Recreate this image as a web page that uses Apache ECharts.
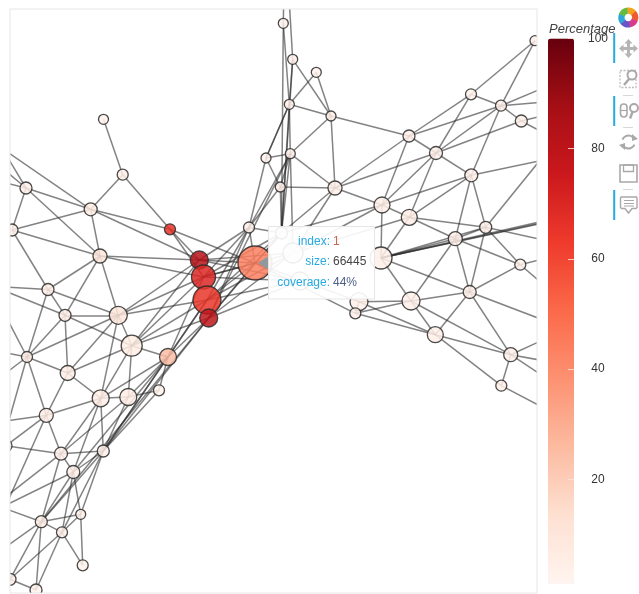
<!DOCTYPE html>
<html><head><meta charset="utf-8">
<style>html,body{margin:0;padding:0;background:#fff}#c{width:639px;height:594px}</style>
<script src="https://cdn.jsdelivr.net/npm/echarts@6/dist/echarts.min.js"></script>
</head><body><div id="c"></div>
<script>
const nodeNames=['A','B','C','D','E','F','G','H','I','J','K','L','M','N','O','P','Q','R','S','T','V','W','X','Y','Z','AA','AB','AC','AD','AE','AF','AG','AH','AI','AJ','AK','AL','AM','AN','AO','AP','AQ','z','x','y','u','a','b','c','d','e','f','g','h','i','j','k','l','m','n','o','p','q','r','s','t'];
const nodeX=[103.5,122.7,26,90.7,170,12,100,199.3,203.5,207,208.7,255,249,266,283.3,292.7,316.3,289.3,331,290.3,280.3,335,409,436,471,501,521.3,535,471.3,382,409.3,485.7,455.3,381,520.3,469.7,411,359,355.3,435.3,510.7,501.3,281.5,293,300,48,65,118.3,131.7,168,27,67.7,100.7,128.3,159,46.3,61,103.3,6,73.3,80.7,41.3,62,82.7,10,36];
const nodeY=[119.3,174.7,188,209.3,229.3,230,256,260,277,300,318,263,227.5,158,23.3,59.3,72.3,104.3,116,153.7,187,188,136,153,94.3,105.7,121,40.7,175.3,205,217.3,227.3,238.7,258,264.7,292,301,301.7,313.3,334.7,354.7,385.7,233,253,281,289.5,315.3,315.3,345.7,357,357,373,398.3,397,390.3,415.3,453.7,451,445.7,472,514.3,521.7,532.3,565.3,579.3,590];
const nodeRadius=[5,5.5,6,6.5,5.5,6,7,9,12,14,9,17,5.5,5,5,5,5,5,5,5,5,7,6,6.5,5.5,5.5,6,5,6.5,8,8,6,7,11,5.5,6.5,9,9,5.5,8,7,5.5,6,10,9,6,6,9,10.5,8.5,5.5,7.5,8.5,8.5,5.5,7,6.5,6,6,6.5,5,6,5.5,5.5,6,6];
const nodeCoverage=[3,5,4,6,66,4,10,82,70,65,80,44,5,3,4,4,3,4,4,4,4,4,4,4,3,4,4,4,4,4,5,4,4,4,4,4,4,4,4,4,4,4,3,3,3,5,5,10,6,25,5,5,5,5,3,5,4,4,4,5,4,5,4,3,4,3];

const offNames=['t1','t2','l1','l2','l3','l4','l5','l6','l7','l8','l9','l10','l11','l12','l13','l14','l15','r1','r2','r3','r4','r5','r6','r7','r8','r9','r10','r11','r12','r13','r14','r15','r16'];
const offX=[284,288,-10,-10,-10,-10,-10,-10,-10,-10,-10,-10,-10,-10,-10,-10,-10,567,567,567,567,567,567,567,567,567,567,567,567,567,567,567,567];
const offY=[-20,-20,140,158,179,286,285,350,385,487,509,513,503,558,541,128,423,78,100,110,145,155,127,217,215.5,245,253,305,329,365,392,420,218];

const edgeList='A-B B-D B-E C-D C-G C-F C-l2 C-l3 C-l14 D-E D-H D-G D-F D-l1 F-G F-u G-H G-I G-u G-a G-b u-l4 u-a u-b u-e l5-a a-b a-c a-f a-e e-l6 e-b e-f e-j e-l7 e-l8 e-l4 b-c b-f b-g b-J b-I b-H c-H c-I c-J c-K c-d c-g c-h c-f f-j f-g g-h g-j g-l g-n g-k g-d h-i h-d h-l h-k d-i d-K d-J d-I d-l i-l K-l K-p d-n J-l l-k l-n l-p l-q l-o n-k n-o n-q n-l10 k-j k-m k-p k-l9 j-l15 j-m j-l13 p-n p-q p-o p-l11 p-s p-t p-l12 q-o q-r q-s q-t o-r s-t E-H E-I E-L M-L M-H M-I M-K M-V M-T M-N M-J M-z N-T N-R N-V V-T H-L H-x H-y I-L I-x I-y I-z J-L J-x J-y J-z K-L K-x K-y K-T K-z L-z O-t1 P-t2 O-z R-z P-z T-z V-z T-x R-O R-P R-N R-S R-T P-S Q-R Q-S S-T S-W S-X T-W V-W W-z W-x W-AE W-X W-Y X-Y X-Z X-AA X-AE Y-Z Y-AA Y-AB Y-AD Y-AE Y-AF Z-AC Z-AA AA-AC AA-AB AA-AD AA-r1 AA-r2 AB-r3 AB-r4 AD-r5 AD-AE AD-AF AD-AH AD-AG AE-AI AE-AF AE-x AE-z AF-AG AF-AH AF-AI AF-x AI-AH AI-AG AI-r16 AI-r7 AI-r8 AI-AL AI-AK AH-AK AH-AL AH-AG AH-AJ AG-AK AG-AJ AG-r6 AG-r9 AJ-AK AJ-r10 AJ-r11 AK-AL AK-AO AK-AP AK-r12 AL-AO AL-AP AL-AN AL-AM AP-AQ AP-AO AP-r13 AP-r14 AP-r12 AQ-r15 AQ-AO AN-AO AN-AM AN-L AM-L AM-AO'.split(' ');

const tickValues=[0,20,40,60,80,100];
const tipLabels=['index:','size:','coverage:'];
const tipValues=['1','66445','44%'];

const allNames=nodeNames.concat(offNames), allX=nodeX.concat(offX), allY=nodeY.concat(offY);
const pos={}; allNames.forEach((n,i)=>pos[n]=[allX[i],allY[i]]);
const lineData=edgeList.map(e=>{const [a,b]=e.split('-');return {coords:[pos[a],pos[b]]};});
const scatterData=nodeNames.map((n,i)=>[nodeX[i],nodeY[i],nodeCoverage[i],nodeRadius[i]]);

const blue='#26aae1', icon='#a9a9a9';
const gfx=[];
// white frame outside the plot area, so that marks stop at its edge
[[0,0,10,594],[537,0,10.8,594],[0,0,547.8,9],[0,593,547.8,1]].forEach(r=>gfx.push({type:'rect',z:40,shape:{x:r[0],y:r[1],width:r[2],height:r[3]},style:{fill:'#fff'}}));
gfx.push({type:'rect',z:41,shape:{x:10,y:9,width:527,height:584},style:{fill:'none',stroke:'#e6e6e6',lineWidth:1}});
gfx.push({type:'polygon',z:50,shape:{points:[[258.3,263],[268.5,256],[268.5,270]]},style:{fill:'#8f9a9e'}});
gfx.push({type:'rect',z:51,shape:{x:268.5,y:226.5,width:106,height:72.5},style:{fill:'rgba(255,255,255,0.91)',stroke:'#e6e6e6',lineWidth:1}});
const tipCol=['#c8654c','#444444','#4d5f86'], tipY=[242,262,283];
tipLabels.forEach((t,i)=>{
  gfx.push({type:'text',z:52,style:{text:t,x:330,y:tipY[i],align:'right',verticalAlign:'middle',fill:blue,font:'12px "Liberation Sans"'}});
  gfx.push({type:'text',z:52,style:{text:tipValues[i],x:333,y:tipY[i],align:'left',verticalAlign:'middle',fill:tipCol[i],font:'12px "Liberation Sans"'}});
});
gfx.push({type:'text',z:60,style:{text:'Percentage',x:549,y:29,align:'left',verticalAlign:'middle',fill:'#444',font:'italic 13px "Liberation Sans"'}});
const logoCols=['#f6a21e','#ee5a32','#d93a8e','#6a55c8','#2fa8d8','#63bb43'];
logoCols.forEach((c,i)=>{
  gfx.push({type:'sector',z:60,shape:{cx:628.3,cy:17.5,r0:3.8,r:10,startAngle:(-100+i*60)*Math.PI/180,endAngle:(-36+i*60)*Math.PI/180},style:{fill:c}});
});
[[33,30],[96,30],[190,30]].forEach(b=>gfx.push({type:'rect',z:60,shape:{x:613.2,y:b[0],width:2,height:b[1]},style:{fill:blue}}));
[95,127,189].forEach(y=>gfx.push({type:'rect',z:60,shape:{x:623,y:y,width:10,height:1},style:{fill:'#d8d8d8'}}));
gfx.push({type:'polygon',z:60,shape:{points:[[628.5,39],[632.5,43.5],[630,43.5],[630,47],[633.5,47],[633.5,44.5],[638,48.5],[633.5,52.5],[633.5,50],[630,50],[630,53.5],[632.5,53.5],[628.5,58],[624.5,53.5],[627,53.5],[627,50],[623.5,50],[623.5,52.5],[619,48.5],[623.5,44.5],[623.5,47],[627,47],[627,43.5],[624.5,43.5]]},style:{fill:'#b5b5b5'}});
gfx.push({type:'rect',z:60,shape:{x:620,y:70.5,width:16,height:17},style:{fill:'none',stroke:'#bdbdbd',lineWidth:1.3,lineDash:[2,1.5]}});
gfx.push({type:'circle',z:60,shape:{cx:632,cy:75,r:4.5},style:{fill:'#fff',stroke:icon,lineWidth:2}});
gfx.push({type:'line',z:60,shape:{x1:629,y1:79,x2:624,y2:85},style:{stroke:icon,lineWidth:2.5}});
gfx.push({type:'rect',z:60,shape:{x:620.5,y:104,width:6.5,height:13,r:3.2},style:{fill:'none',stroke:icon,lineWidth:1.6}});
gfx.push({type:'line',z:60,shape:{x1:621,y1:110.5,x2:627,y2:110.5},style:{stroke:icon,lineWidth:1.2}});
gfx.push({type:'circle',z:60,shape:{cx:634,cy:108,r:4},style:{fill:'#fff',stroke:icon,lineWidth:2}});
gfx.push({type:'line',z:60,shape:{x1:632.5,y1:112,x2:630,y2:118.5},style:{stroke:icon,lineWidth:2.5}});
gfx.push({type:'arc',z:60,shape:{cx:628.5,cy:142,r:6.5,startAngle:3.5,endAngle:5.9},style:{stroke:icon,fill:'none',lineWidth:2}});
gfx.push({type:'arc',z:60,shape:{cx:628.5,cy:142,r:6.5,startAngle:0.4,endAngle:2.8},style:{stroke:icon,fill:'none',lineWidth:2}});
gfx.push({type:'polygon',z:60,shape:{points:[[632,134],[638,139],[632,141]]},style:{fill:icon}});
gfx.push({type:'polygon',z:60,shape:{points:[[625,150],[619,145],[625,143]]},style:{fill:icon}});
gfx.push({type:'rect',z:60,shape:{x:620,y:165,width:17,height:17},style:{fill:'none',stroke:icon,lineWidth:1.6}});
gfx.push({type:'rect',z:60,shape:{x:623.5,y:165,width:10,height:6.5},style:{fill:'none',stroke:icon,lineWidth:1.3}});
gfx.push({type:'polygon',z:60,shape:{points:[[621,197],[636.5,197],[637,198],[637,207.5],[636,208.5],[632,208.5],[628.5,213],[625,208.5],[621.5,208.5],[620.5,207.5],[620.5,198]]},style:{fill:'none',stroke:icon,lineWidth:1.4}});
[200.5,203.5,206].forEach(y=>gfx.push({type:'line',z:60,shape:{x1:624,y1:y,x2:634,y2:y},style:{stroke:icon,lineWidth:1}}));

const chart=echarts.init(document.getElementById('c'),null,{renderer:'canvas'});
chart.setOption({
  animation:false,
  backgroundColor:'#fff',
  grid:[
    {left:10,top:9,width:527,height:584,show:false},
    {left:548,top:38.5,width:26,height:551}
  ],
  xAxis:[
    {gridIndex:0,type:'value',min:10,max:537,show:false},
    {gridIndex:1,type:'value',min:0,max:1,show:false}
  ],
  yAxis:[
    {gridIndex:0,type:'value',min:9,max:593,inverse:true,show:false},
    {gridIndex:1,type:'value',min:0,max:100,interval:20,position:'right',z:20,
     splitLine:{show:false},axisLine:{show:false,onZero:false},
     axisTick:{show:true,inside:true,length:6,lineStyle:{color:'rgba(255,225,220,0.85)',width:1}},
     axisLabel:{show:true,showMinLabel:false,margin:24,align:'center',color:'#333',fontSize:12,fontFamily:'Liberation Sans',
       formatter:v=>tickValues.includes(v)?String(v):''}}
  ],
  visualMap:{
    type:'continuous',min:1,max:100,seriesIndex:1,dimension:2,
    left:548,top:38.5,itemWidth:26,itemHeight:545.5,padding:0,z:1,
    calculable:false,showLabel:false,text:null,hoverLink:false,realtime:false,
    inRange:{color:['#fff5f0','#fee0d2','#fcbba1','#fc9272','#fb6a4a','#ef3b2c','#cb181d','#a50f15','#67000d']}
  },
  series:[
    {type:'lines',coordinateSystem:'cartesian2d',xAxisIndex:0,yAxisIndex:0,clip:true,z:2,silent:true,
     lineStyle:{color:'#2a2a2a',width:1.5,opacity:0.58,curveness:0},data:lineData},
    {type:'scatter',xAxisIndex:0,yAxisIndex:0,clip:false,z:3,silent:true,
     symbol:'circle',symbolSize:v=>v[3]*2,
     itemStyle:{borderColor:'#2a2a2a',borderWidth:1.3,opacity:0.85},
     data:scatterData}
  ],
  graphic:{elements:gfx}
});
</script></body></html>
